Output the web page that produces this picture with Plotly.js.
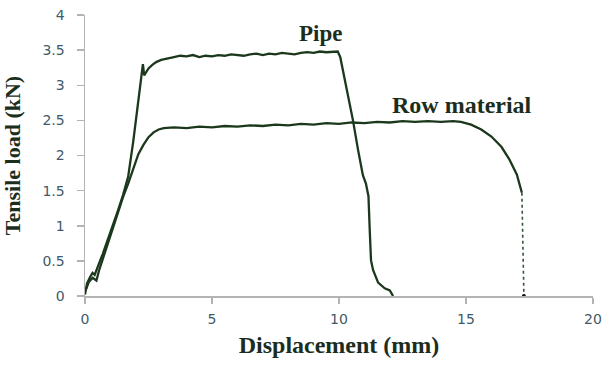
<!DOCTYPE html>
<html>
<head>
<meta charset="utf-8">
<script src="https://cdn.plot.ly/plotly-3.0.1.min.js"></script>
<style>html,body{margin:0;padding:0;background:#fff;}#chart{width:615px;height:365px;}</style>
</head>
<body>
<div id="chart"></div>
<script>
// Pipe curve
const pipeX = [0,0.08,0.2,0.3,0.38,0.45,0.55,0.7,0.9,1.1,1.3,1.5,1.7,1.9,2.1,2.22,2.28,2.33,2.4,2.5,2.65,2.8,3.0,3.2,3.5,3.75,4,4.25,4.5,4.75,5,5.25,5.5,5.75,6,6.25,6.5,6.75,7,7.25,7.5,7.75,8,8.25,8.5,8.75,9,9.25,9.5,9.75,9.95,10.05,10.15,10.24,10.4,10.55,10.75,10.94,11.06,11.16,11.21,11.26,11.34,11.54,11.8,12.0,12.13];
const pipeY = [0.02,0.18,0.27,0.33,0.3,0.38,0.46,0.6,0.8,1.0,1.22,1.44,1.7,2.2,2.75,3.1,3.3,3.14,3.18,3.24,3.29,3.33,3.36,3.38,3.4,3.42,3.41,3.43,3.4,3.42,3.41,3.43,3.42,3.44,3.43,3.42,3.44,3.45,3.43,3.45,3.44,3.46,3.45,3.44,3.46,3.47,3.46,3.48,3.47,3.48,3.48,3.4,3.22,3.07,2.78,2.5,2.08,1.72,1.6,1.42,0.94,0.51,0.37,0.19,0.11,0.08,0.0];
// Row material curve
const rowX = [0.05,0.15,0.3,0.45,0.55,0.7,0.9,1.1,1.3,1.5,1.7,1.9,2.1,2.3,2.5,2.7,2.9,3.1,3.5,4,4.5,5,5.5,6,6.5,7,7.5,8,8.5,9,9.5,10,10.5,11,11.5,12,12.5,13,13.5,14,14.5,14.8,15.2,15.6,16,16.4,16.7,17,17.2];
const rowY = [0.1,0.2,0.26,0.22,0.36,0.53,0.74,0.97,1.19,1.41,1.6,1.8,2.02,2.15,2.26,2.33,2.37,2.39,2.4,2.39,2.41,2.4,2.42,2.41,2.43,2.42,2.44,2.43,2.45,2.44,2.46,2.45,2.47,2.46,2.48,2.47,2.49,2.48,2.49,2.48,2.49,2.48,2.44,2.37,2.27,2.12,1.95,1.73,1.47];
// Row material fracture drop (dotted)
const dropX = [17.2,17.28];
const dropY = [1.47,0];
const xTicks = [0,5,10,15,20];
const yTicks = [0,0.5,1,1.5,2,2.5,3,3.5,4];

const lineColor = '#1b381d';
const data = [
  {x: pipeX, y: pipeY, mode: 'lines', line: {color: lineColor, width: 2.3}, hoverinfo: 'skip'},
  {x: rowX, y: rowY, mode: 'lines', line: {color: lineColor, width: 2.3}, hoverinfo: 'skip'},
  {x: dropX, y: dropY, mode: 'lines', line: {color: '#35553a', width: 1.6, dash: 'dot'}, hoverinfo: 'skip'},
  {x: [dropX[1]], y: [dropY[1]], mode: 'markers', marker: {color: '#111', size: 4}, hoverinfo: 'skip'}
];
const tickFont = {family: 'DejaVu Sans, Verdana, sans-serif', size: 14, color: '#3f5a6a'};
const serif = 'Liberation Serif, Times New Roman, serif';
const layout = {
  width: 615, height: 365,
  margin: {l: 85, r: 22, t: 15, b: 69},
  paper_bgcolor: '#fff', plot_bgcolor: '#fff',
  showlegend: false,
  xaxis: {
    range: [0, 20], tickvals: xTicks, ticktext: xTicks.map(String),
    showgrid: false, zeroline: false, showline: true, linecolor: '#b3b3b3', linewidth: 1.5,
    ticks: 'outside', ticklen: 6, tickcolor: '#b3b3b3', tickwidth: 1.5,
    ticklabelstandoff: 4,
    tickfont: tickFont,
    title: {text: 'Displacement (mm)', font: {family: serif, size: 24, color: '#1b2e1d', weight: 'bold'}, standoff: 10}
  },
  yaxis: {
    range: [0, 4], tickvals: yTicks, ticktext: yTicks.map(String),
    showgrid: false, zeroline: false, showline: true, linecolor: '#b3b3b3', linewidth: 1.5,
    ticks: 'outside', ticklen: 7, tickcolor: '#b3b3b3', tickwidth: 1.5,
    ticklabelstandoff: 9,
    tickfont: tickFont,
    title: {text: 'Tensile load (kN)', font: {family: serif, size: 22, color: '#1b2e1d', weight: 'bold'}, standoff: 24}
  },
  annotations: [
    {x: 9.29, y: 3.74, xref: 'x', yref: 'y', text: 'Pipe', showarrow: false,
     font: {family: serif, size: 23, color: '#1b2e1d', weight: 'bold'}},
    {x: 14.84, y: 2.72, xref: 'x', yref: 'y', text: 'Row material', showarrow: false,
     font: {family: serif, size: 24, color: '#1b2e1d', weight: 'bold'}}
  ]
};
Plotly.newPlot('chart', data, layout, {displayModeBar: false, staticPlot: true});
</script>
</body>
</html>
